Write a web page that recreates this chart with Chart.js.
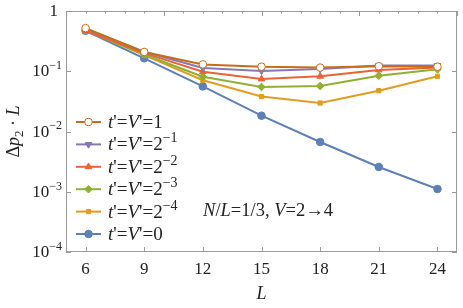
<!DOCTYPE html>
<html>
<head>
<meta charset="utf-8">
<script src="https://cdn.jsdelivr.net/npm/chart.js@4"></script>
<style>
  html, body { margin: 0; padding: 0; background: #fff; }
  #box { width: 463px; height: 308px; position: relative; }
</style>
</head>
<body>
<div id="box"><canvas id="grafico"></canvas></div>
<script>
// valores
const Ls = [6, 9, 12, 15, 18, 21, 24];
const serieUm = [0.52, 0.209, 0.130, 0.119, 0.115, 0.121, 0.119];
const serieMeio = [0.51, 0.21, 0.113, 0.101, 0.109, 0.124, 0.125];
const serieQuarto = [0.47, 0.20, 0.098, 0.0744, 0.0824, 0.105, 0.115];
const serieOitavo = [0.48, 0.19, 0.0813, 0.0548, 0.0569, 0.0845, 0.1076];
const serieDezesseis = [0.48, 0.185, 0.0708, 0.038, 0.0297, 0.0476, 0.0824];
const serieZero = [0.47, 0.164, 0.056, 0.0183, 0.0067, 0.00258, 0.00111];
const expoentes = ['', '\u22121', '\u22122', '\u22123', '\u22124', ''];
const xTicks = [6, 9, 12, 15, 18, 21, 24];
const yTicks = [1, 0.1, 0.01, 0.001, 0.0001];
const yTickExp = ['', '\u22121', '\u22122', '\u22123', '\u22124'];

const FONT = '"Liberation Serif", "Times New Roman", Times, serif';
const FRAME = '#9a9a9a';

const series = [
  { data: serieUm, color: '#C56E1A', style: 'circle', radius: 3.8, fill: '#ffffff', rot: 0, base: '1' },
  { data: serieMeio, color: '#8778B3', style: 'triangle', radius: 3.8, fill: null, rot: 180, base: '2' },
  { data: serieQuarto, color: '#EB6235', style: 'triangle', radius: 3.8, fill: null, rot: 0, base: '2' },
  { data: serieOitavo, color: '#8FB032', style: 'rectRot', radius: 3.8, fill: null, rot: 0, base: '2' },
  { data: serieDezesseis, color: '#E19C24', style: 'rect', radius: 3, fill: null, rot: 0, base: '2' },
  { data: serieZero, color: '#5E81B5', style: 'circle', radius: 3.8, fill: null, rot: 0, base: '0' }
];

function fontFor(r, size) {
  const s = (r[2] ? Math.round(size * 0.72) : size);
  return (r[1] ? 'italic ' : '') + s + 'px ' + FONT;
}

function drawRuns(ctx, runs, x, y, size, align) {
  // runs: [texto, italico, 1 = sobrescrito / -1 = subscrito]
  let total = 0;
  const widths = runs.map(r => {
    ctx.font = fontFor(r, size);
    const w = ctx.measureText(r[0]).width;
    total += w;
    return w;
  });
  let cx = x;
  if (align === 'center') cx = x - total / 2;
  if (align === 'right') cx = x - total;
  ctx.textBaseline = 'alphabetic';
  ctx.textAlign = 'left';
  runs.forEach((r, i) => {
    ctx.font = fontFor(r, size);
    let dy = 0;
    if (r[2] === 1) dy = -size * 0.42;
    if (r[2] === -1) dy = size * 0.22;
    ctx.fillText(r[0], cx, y + dy);
    cx += widths[i];
  });
}

const moldura = {
  id: 'moldura',
  beforeDatasetsDraw(chart) {
    const { ctx, chartArea: a, scales } = chart;
    ctx.save();
    ctx.strokeStyle = FRAME;
    ctx.lineWidth = 1;
    ctx.strokeRect(a.left + 0.5, a.top + 0.5, a.right - a.left - 1, a.bottom - a.top - 1);
    ctx.beginPath();
    // baixo: só principais
    xTicks.forEach(v => {
      const px = Math.round(scales.x.getPixelForValue(v)) + 0.5;
      ctx.moveTo(px, a.bottom); ctx.lineTo(px, a.bottom - 5);
    });
    // cima: automáticos (5,10,...) e menores
    for (let v = 5; v <= 25; v++) {
      const px = Math.round(scales.x.getPixelForValue(v)) + 0.5;
      const len = v % 5 === 0 ? 5 : 2.5;
      ctx.moveTo(px, a.top); ctx.lineTo(px, a.top + len);
    }
    yTicks.forEach(v => {
      const py = Math.round(scales.y.getPixelForValue(v)) + 0.5;
      ctx.moveTo(a.left, py); ctx.lineTo(a.left + 5, py);
      ctx.moveTo(a.right, py); ctx.lineTo(a.right - 5, py);
    });
    ctx.stroke();
    ctx.restore();
  },
  afterDraw(chart) {
    const { ctx, chartArea: a, scales } = chart;
    ctx.save();
    ctx.fillStyle = '#222';
    // rótulos x
    xTicks.forEach(v => {
      drawRuns(ctx, [[String(v)]], scales.x.getPixelForValue(v), 273.5, 17, 'center');
    });
    // rótulos y
    yTicks.forEach((v, i) => {
      const py = scales.y.getPixelForValue(v) + 5;
      if (yTickExp[i]) drawRuns(ctx, [['10'], [yTickExp[i], false, 1]], 62, py, 17, 'right');
      else drawRuns(ctx, [['1']], 58, py, 17, 'right');
    });
    // títulos
    drawRuns(ctx, [['L', true]], (a.left + a.right) / 2, 299, 18, 'center');
    ctx.save();
    ctx.translate(19, (a.top + a.bottom) / 2);
    ctx.rotate(-Math.PI / 2);
    drawRuns(ctx, [['\u0394'], ['p', true], ['2', false, -1], [' \u00b7 '], ['L', true]], 0, 0, 18, 'center');
    ctx.restore();
    // anotação
    drawRuns(ctx, [['N', true], ['/'], ['L', true], ['=1/3, '], ['V', true], ['=2\u21924']], 268, 216, 18.5, 'center');
    // legenda
    series.forEach((s, i) => {
      const y = 122 + i * 22.4;
      ctx.strokeStyle = s.color;
      ctx.lineWidth = 2;
      ctx.beginPath();
      ctx.moveTo(76, y); ctx.lineTo(101, y);
      ctx.stroke();
      ctx.fillStyle = s.fill || s.color;
      ctx.lineWidth = 1;
      Chart.helpers.drawPoint(ctx, { pointStyle: s.style, radius: s.radius, rotation: s.rot, borderWidth: 1 }, 88.5, y);
      ctx.fillStyle = '#222';
      const runs = [['t', true], ["'"], ['='], ['V', true], ["'"], ['=' + s.base]];
      if (expoentes[i]) runs.push([expoentes[i], false, 1]);
      drawRuns(ctx, runs, 108, y + 6, 19, 'left');
    });
    ctx.restore();
  }
};

const datasets = series.map(s => ({
  data: s.data.map((v, i) => ({ x: Ls[i], y: v })),
  borderColor: s.color,
  backgroundColor: s.fill || s.color,
  pointBorderColor: s.color,
  pointBackgroundColor: s.fill || s.color,
  pointStyle: s.style,
  pointRadius: s.radius,
  pointRotation: s.rot,
  pointBorderWidth: 1,
  borderWidth: 2,
  tension: 0
}));

function criar() {
  new Chart(document.getElementById('grafico'), {
    type: 'line',
    data: { datasets: datasets },
    options: {
      responsive: true,
      maintainAspectRatio: false,
      animation: false,
      layout: { padding: { top: 11, right: 6, left: 0, bottom: 0 } },
      plugins: { legend: { display: false }, tooltip: { enabled: false } },
      scales: {
        x: {
          type: 'linear', min: 5, max: 25,
          grid: { display: false }, border: { display: false },
          ticks: { display: false },
          afterFit(scale) { scale.height = 56; }
        },
        y: {
          type: 'logarithmic', min: 0.0001, max: 1,
          grid: { display: false }, border: { display: false },
          ticks: { display: false },
          afterFit(scale) { scale.width = 66; }
        }
      }
    },
    plugins: [moldura]
  });
}

Promise.all([
  document.fonts.load('16px "Liberation Serif"'),
  document.fonts.load('italic 16px "Liberation Serif"')
]).then(criar, criar);
</script>
</body>
</html>
